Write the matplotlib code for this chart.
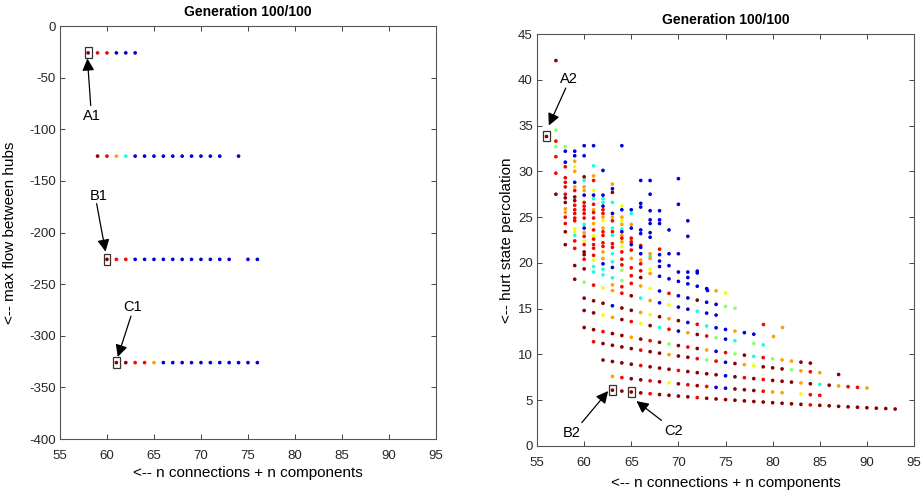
import matplotlib
matplotlib.use("Agg")
import matplotlib.pyplot as plt
from matplotlib.patches import Rectangle

plt.rcParams["font.family"] = ["Liberation Sans", "DejaVu Sans"]
plt.rcParams["axes.unicode_minus"] = False

# colour codes -> position on the jet colormap
JET = {"D": 0.99, "R": 0.90, "O": 0.74, "Y": 0.64, "G": 0.52,
       "C": 0.38, "L": 0.30, "B": 0.08}

# ── left panel: max flow between hubs ───────────────────────────────────────
left_levels = [-26, -126, -226, -326]
left_x = [
    [58, 59, 60, 61, 62, 63],
    [59, 60, 61, 62, 63, 64, 65, 66, 67, 68, 69, 70, 71, 72, 74],
    [60, 61, 62, 63, 64, 65, 66, 67, 68, 69, 70, 71, 72, 73, 75, 76],
    [61, 62, 63, 64, 65, 66, 67, 68, 69, 70, 71, 72, 73, 74, 75, 76],
]
left_codes = ["DRRBBB", "DROCBBBBBBBBBBB", "DRRBBBBBBBBBBBBB", "DDRROBBBBBBBBBBB"]

# ── right panel: front rows (first x, y per consecutive x, colour codes) ──────
row_start = [63, 63, 62, 61, 60, 60, 60, 59, 59, 58]
row_y = [
    [6.10, 6.00, 5.90, 5.80, 5.71, 5.62, 5.54, 5.45, 5.37, 5.29, 5.21, 5.14, 5.07, 5.00, 4.93, 4.86,
     4.80, 4.73, 4.67, 4.61, 4.55, 4.49, 4.44, 4.39, 4.33, 4.28, 4.23, 4.18, 4.13, 4.09, 4.04],
    [7.60, 7.47, 7.35, 7.23, 7.12, 7.01, 6.90, 6.79, 6.69, 6.59, 6.50, 6.40, 6.31, 6.23, 6.14, 6.06,
     5.98, 5.90, 5.82, None, 5.67, 5.60, 5.53],
    [9.39, 9.23, 9.08, 8.93, 8.79, 8.65, 8.51, 8.38, 8.25, 8.13, 8.01, 7.89, 7.78, 7.67, 7.56, 7.46,
     7.36, 7.26, 7.16, 7.07, 6.98, 6.89, 6.80, 6.72, 6.64, 6.56, 6.48, 6.40, 6.33],
    [11.39, 11.19, 11.00, 10.82, 10.64, 10.47, 10.30, 10.14, 9.98, 9.83, 9.69, 9.54, 9.40, 9.27,
     9.14, 9.01, 8.89, 8.77, 8.65, 8.54, 8.42, 8.32, 8.21, 8.11, 8.01, None, 7.81],
    [12.94, 12.71, 12.49, 12.28, 12.07, 11.88, 11.68, 11.50, 11.32, 11.14, 10.97, 10.81, 10.65,
     10.49, 10.34, 10.20, 10.06, 9.92, 9.78, 9.65, 9.53, 9.40, 9.28, 9.16, 9.05],
    [14.80, 14.54, 14.29, 14.05, 13.81, 13.59, 13.37, 13.15, 12.95, 12.75, 12.55, 12.37, 12.18,
     12.01, 11.83, 11.67, 11.50, None, 11.19, 11.04],
    [16.15, 15.86, 15.59, 15.32, 15.07, 14.82, 14.58, 14.35, 14.12, 13.90, 13.69, 13.49, 13.29,
     13.10, 12.91, 12.73, 12.55, 12.38, 12.21],
    [18.21, 17.89, 17.57, 17.27, 16.97, 16.69, 16.41, 16.15, 15.89, 15.64, 15.40, 15.17, 14.94,
     14.72, 14.51, 14.30],
    [19.71, 19.35, 19.01, 18.69, 18.37, 18.06, 17.76, 17.48, 17.20, 16.93, 16.67, 16.41, 16.17,
     15.93, 15.70, 15.47, 15.25, 15.04],
    [21.99, 21.59, 21.20, 20.83, 20.47, 20.12, 19.78, 19.46, 19.14, 18.84, 18.54, 18.26, 17.98,
     17.71, 17.45, 17.19, 16.95, 16.71],
]
row_codes = [
    "DDDDRDDDDRDDDDDDDDDDDRDDDDDDDDD",
    "ORDDRDYDRDRBBDDDROO-YRR",
    "DDDDRDDDRDDDDBDRDRDDDODCDORRO",
    "RDDDDRDDODDRGRBDOYDDDGORO-D",
    "DDRDDODRDGDRDOBRGDCRGOODD",
    "DDYODRYDCRBODRGBC-GC",
    "DDDBDDOYDODBRCBBOBB",
    "DGRYORDCOBYBBCBB",
    "DDCCCGROYBRBBDBBGG",
    "DRDROCRRROBBBBBBOY",
]

# ── right panel: upper cloud, listed per column ─────────────────────────────
col_x = [56, 57, 58, 59, 60, 61, 62, 63, 64, 65, 66, 67, 68, 69, 70, 71, 72, 73, 79, 80, 81]
col_y = [
    [33.9],
    [42.1, 34.5, 33.3, 32.7, 31.6, 29.8, 27.5],
    [32.7, 32.2, 31.0, 30.5, 29.3, 28.8, 28.3, 27.5, 27.1, 26.6, 25.9, 25.5, 25.0, 24.3, 23.4],
    [32.2, 31.7, 31.1, 30.5, 30.0, 28.8, 28.3, 27.9, 27.2, 26.8, 26.3, 25.8, 25.4, 24.9, 24.6,
     23.7, 23.4, 23.0, 22.4],
    [32.8, 31.7, 29.4, 29.0, 28.3, 27.9, 27.4, 26.6, 26.2, 25.8, 25.4, 24.9, 24.2, 23.8, 23.3,
     22.9, 22.4, 22.0, 20.9, 20.4],
    [32.8, 30.6, 29.5, 29.0, 27.9, 27.4, 27.0, 26.4, 25.8, 25.5, 24.9, 24.3, 23.6, 23.0, 22.6,
     22.0, 21.6, 20.3, 19.6],
    [30.1, 27.4, 27.0, 26.6, 26.2, 25.8, 25.4, 25.0, 24.6, 23.8, 23.4, 23.0, 22.2, 21.8, 21.2,
     19.9, 19.3],
    [28.6, 28.1, 27.7, 26.6, 25.4, 25.0, 24.6, 23.8, 23.4, 23.0, 22.1, 21.7, 21.0, 19.5, 17.6],
    [32.8, 26.2, 25.8, 25.0, 24.6, 24.2, 23.7, 23.4, 23.0, 22.7, 22.3, 21.8, 21.2, 20.4, 19.2, 17.4],
    [25.8, 25.4, 24.2, 23.8, 22.7, 22.3, 22.0, 21.4, 20.5, 18.6],
    [29.0, 26.5, 26.1, 23.6, 23.2, 21.9, 21.7, 21.0, 20.3, 19.9, 18.4],
    [29.0, 27.5, 25.7, 24.7, 24.3, 23.3, 22.8, 21.0, 20.7, 20.5, 19.3],
    [25.7, 24.7, 24.3, 21.5, 20.9, 20.2, 19.6],
    [23.6, 21.0, 19.7],
    [29.2, 26.4, 21.0, 19.0],
    [24.6, 22.9, 19.0, 18.4],
    [19.1, 18.9],
    [17.0],
    [13.3],
    [12.0],
    [13.0],
]
col_codes = [
    "D", "DGRGRRD", "GBBRRRRRDDOORRD", "BBOYOBORDDRRRRRYYCR", "BBDCOOBRRRRRCBORYRDR",
    "BCORYBCRORRORYRRRYC", "BBCCBRROYORRRROBC", "OBDCBORCRCRRCBO", "BYBOYOCBOROYRRGR",
    "BCOBRRBROR", "BBBBBRBBORD", "BBBBBBBOCOY", "BBBRBBB", "BBB", "BBBB", "BBBB", "BB", "B",
    "R", "O", "O",
]

# selected solutions
left_sel = [(58, -26), (60, -226), (61, -326)]
right_sel = [(56, 33.9), (63, 6.10), (65, 5.90)]


def jet(codes):
    return [plt.cm.jet(JET[c]) for c in codes]


def style(ax):
    ax.tick_params(direction="in", top=True, right=True, length=3.5, width=0.6,
                   labelsize=9.5, colors="#262626")
    ax.tick_params(axis="x", pad=8)
    ax.tick_params(axis="y", pad=3)
    for sp in ax.spines.values():
        sp.set_color("#555555")
        sp.set_linewidth(0.8)


fig = plt.figure(figsize=(9.24, 4.95), dpi=100)
arrow = dict(arrowstyle="-|>", color="k", lw=0.9, mutation_scale=18,
             shrinkA=0, shrinkB=0)

# ── left ──────────────────────────────────────────────────────────────────────
ax1 = fig.add_axes([0.0649, 0.1131, 0.4069, 0.8343])
for lvl, xs, codes in zip(left_levels, left_x, left_codes):
    ax1.scatter(xs, [lvl] * len(xs), s=7, c=jet(codes), linewidths=0, zorder=3)
for sx, sy in left_sel:
    ax1.add_patch(Rectangle((sx - 0.36, sy - 5.3), 0.72, 10.6, fill=False,
                            ec="#333333", lw=0.9, zorder=4))
ax1.set_xlim(55, 95)
ax1.set_ylim(-400, 0)
ax1.set_xticks(range(55, 96, 5))
ax1.set_yticks(range(-400, 1, 50))
ax1.set_title("Generation 100/100", fontsize=10, fontweight="bold", pad=7)
ax1.set_xlabel("<-- n connections + n components", fontsize=11, labelpad=3)
ax1.set_ylabel("<-- max flow between hubs", fontsize=11)
ax1.yaxis.set_label_coords(-0.115, 0.5)
style(ax1)

for txt, tpos, tail, tip in [("A1", (58.4, -87), (58.27, -77), (57.92, -31.5)),
                             ("B1", (59.1, -164.5), (58.9, -172), (59.85, -218.5)),
                             ("C1", (62.7, -272), (62.55, -281), (61.15, -320.5))]:
    ax1.annotate("", xy=tip, xytext=tail, arrowprops=arrow, zorder=5)
    ax1.text(*tpos, txt, fontsize=10.5, ha="center", va="center")

# ── right ─────────────────────────────────────────────────────────────────────
ax2 = fig.add_axes([0.5812, 0.099, 0.408, 0.8323])
for x0, ys, codes in zip(row_start, row_y, row_codes):
    pts = [(x0 + i, y, c) for i, (y, c) in enumerate(zip(ys, codes)) if y is not None]
    ax2.scatter([p[0] for p in pts], [p[1] for p in pts], s=7,
                c=jet([p[2] for p in pts]), linewidths=0, zorder=3)
for x, ys, codes in zip(col_x, col_y, col_codes):
    ax2.scatter([x] * len(ys), ys, s=7, c=jet(codes), linewidths=0, zorder=3)
for sx, sy in right_sel:
    ax2.add_patch(Rectangle((sx - 0.39, sy - 0.55), 0.78, 1.1, fill=False,
                            ec="#333333", lw=0.9, zorder=4))
ax2.set_xlim(55, 95)
ax2.set_ylim(0, 45)
ax2.set_xticks(range(55, 96, 5))
ax2.set_yticks(range(0, 46, 5))
ax2.set_title("Generation 100/100", fontsize=10, fontweight="bold", pad=7)
ax2.set_xlabel("<-- n connections + n components", fontsize=11, labelpad=5)
ax2.set_ylabel("<-- hurt state percolation", fontsize=11)
ax2.yaxis.set_label_coords(-0.061, 0.5)
style(ax2)

for txt, tpos, tail, tip in [("A2", (58.4, 40.05), (58.05, 39.1), (56.25, 35.0)),
                             ("B2", (58.7, 1.45), (59.75, 2.55), (62.55, 6.0)),
                             ("C2", (69.5, 1.65), (68.2, 2.8), (65.55, 4.9))]:
    ax2.annotate("", xy=tip, xytext=tail, arrowprops=arrow, zorder=5)
    ax2.text(*tpos, txt, fontsize=10.5, ha="center", va="center")

fig.savefig("out.png", dpi=100)
